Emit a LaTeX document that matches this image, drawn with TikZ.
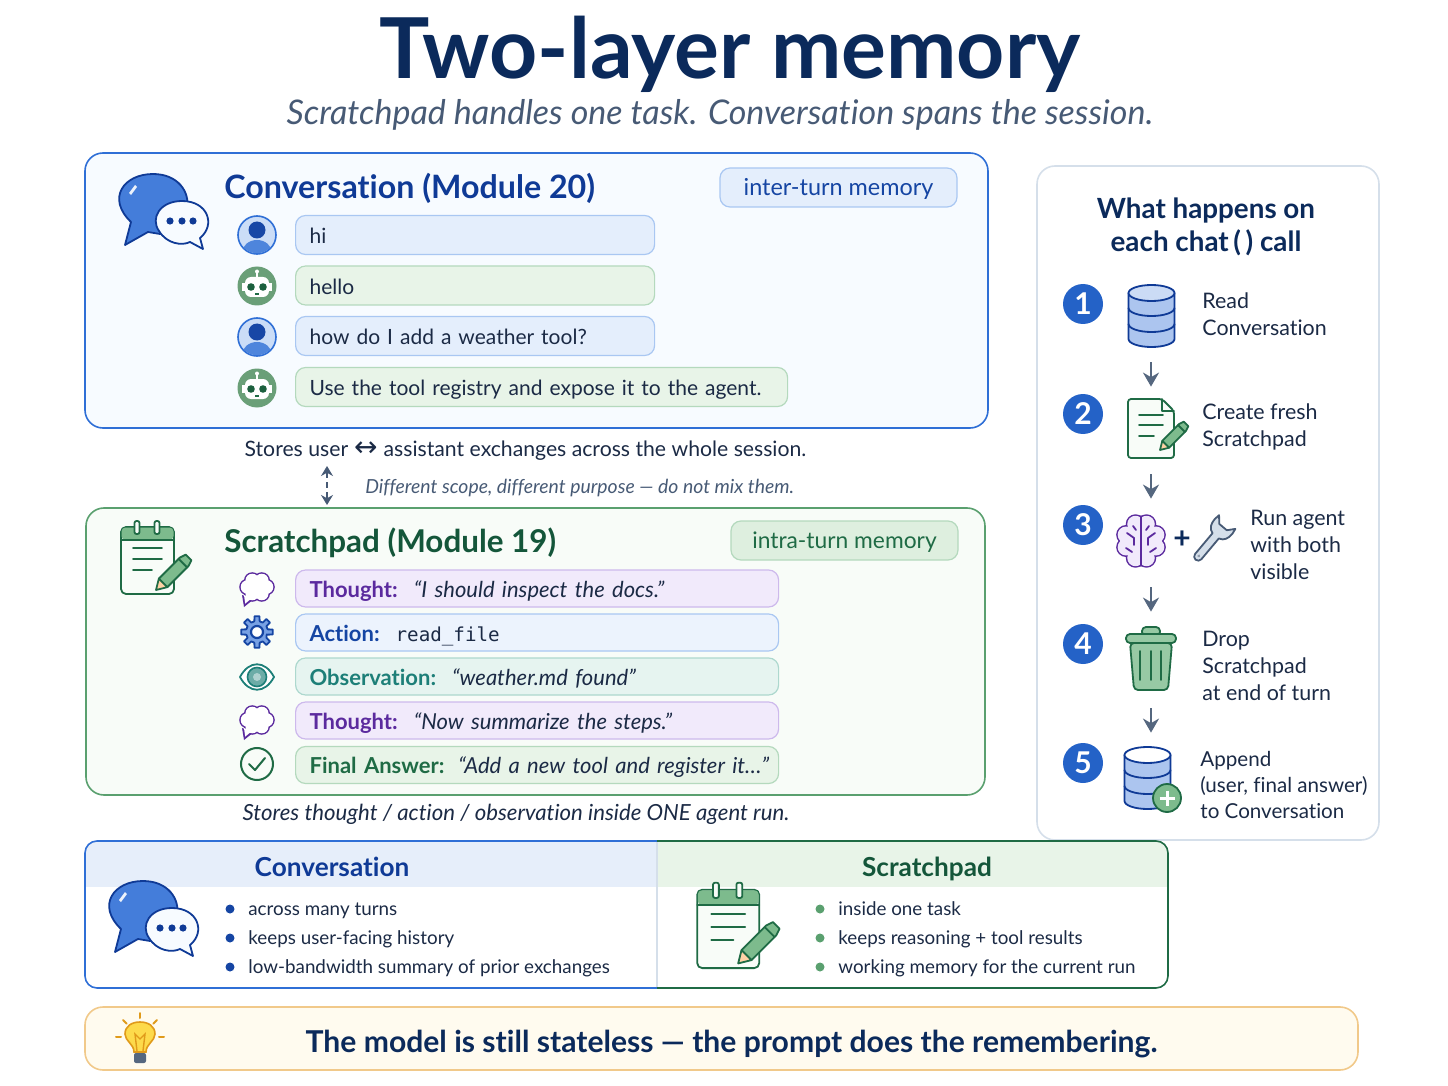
\documentclass[tikz,border=0pt]{standalone}
\usepackage{fontspec}
\setmainfont{Lato}[Ligatures=NoCommon]
\setmonofont{DejaVu Sans Mono}
\newfontfamily\symbolfont{DejaVu Sans}
\usetikzlibrary{arrows.meta}

\definecolor{navy}{HTML}{0B2A5B}
\definecolor{slate}{HTML}{475A75}
\definecolor{inktext}{HTML}{1B2A45}
\definecolor{flowgrey}{HTML}{55677F}
\definecolor{convblue}{HTML}{2F6FD6}
\definecolor{convdark}{HTML}{0F3A96}
\definecolor{convfill}{HTML}{F7FBFF}
\definecolor{bubbleblue}{HTML}{E4EEFC}
\definecolor{edgeblue}{HTML}{A9C7F2}
\definecolor{padgreen}{HTML}{5AA06F}
\definecolor{paddark}{HTML}{14563A}
\definecolor{padfill}{HTML}{F8FCF8}
\definecolor{bubblegreen}{HTML}{E8F4E8}
\definecolor{edgegreen}{HTML}{B4D9BD}
\definecolor{midgreen}{HTML}{7DBB8D}
\definecolor{darkgreen}{HTML}{1F6B45}
\definecolor{thoughtpurple}{HTML}{5B2A9E}
\definecolor{bubblepurple}{HTML}{F1EAFB}
\definecolor{edgepurple}{HTML}{CDB9EC}
\definecolor{obsteal}{HTML}{1D7F78}
\definecolor{bubbleteal}{HTML}{E6F4F0}
\definecolor{edgeteal}{HTML}{ADD8CE}
\definecolor{stepblue}{HTML}{2462C7}
\definecolor{sideedge}{HTML}{D5DFEA}
\definecolor{bannerfill}{HTML}{FFFBEF}
\definecolor{banneredge}{HTML}{F1C98A}
\definecolor{bulbedge}{HTML}{E09A1A}

\tikzset{
  panelbox/.style={line width=0.8pt, rounded corners=9pt},
  pillbox/.style={line width=0.6pt, rounded corners=5pt, minimum height=19.5pt, inner sep=0pt, text height=10.5pt, text depth=2.5pt, font=\fontsize{11.7}{14}\selectfont},
  bubblebox/.style={line width=0.6pt, rounded corners=5pt, anchor=west, inner xsep=7pt, inner ysep=0pt,
    text height=11pt, text depth=2.5pt, minimum height=19.5pt, align=left, text=inktext, font=\fontsize{10.5}{14}\selectfont},
  rowbox/.style={bubblebox, minimum height=18.5pt, text width=227.5pt, font=\fontsize{11}{14}\selectfont},
  heading/.style={anchor=west, text height=15pt, text depth=3.5pt, font=\fontsize{16.1}{20}\selectfont\bfseries},
  caption/.style={text=inktext, text height=10pt, text depth=2.5pt, font=\fontsize{10.6}{14}\selectfont},
  stepnum/.style={circle, fill=stepblue, text=white, minimum size=20pt, inner sep=0pt, font=\fontsize{15}{16}\selectfont\bfseries},
  steptext/.style={anchor=west, align=left, inner sep=0pt, text=inktext, font=\fontsize{10.7}{13.5}\selectfont},
  iconbox/.style={inner sep=0pt, minimum width=20pt},
  flowarrow/.style={draw=flowgrey, line width=1.3pt, -{Stealth[length=7pt,width=8pt]}},
  listtext/.style={anchor=west, inner sep=0pt, text=inktext, text height=9pt, text depth=2.5pt, font=\fontsize{9.4}{12}\selectfont},
  tablehead/.style={text height=12pt, text depth=3pt, font=\fontsize{13.1}{16}\selectfont\bfseries},
  iconline/.style={line width=0.9pt, line join=round, line cap=round}
}

\newcommand{\pencilicon}[3]{
\begin{scope}[shift={(#1,#2)},scale=#3,rotate=45]
\draw [iconline, draw=darkgreen, fill=midgreen] (10,6) -- (40,6) -- (46,4) -- (46,-4) -- (40,-6) -- (10,-6) -- cycle;
\draw [iconline, draw=darkgreen, fill=orange!35] (0,0) -- (10,6) -- (10,-6) -- cycle;
\draw [iconline, draw=darkgreen] (38,6) -- (38,-6);
\end{scope}
}
\newcommand{\notepadicon}[3]{
\begin{scope}[shift={(#1,#2)},scale=#3]
\draw [iconline, draw=darkgreen, fill=padfill, rounded corners=2.5pt] (-34,31) rectangle (19,-36);
\fill [midgreen, rounded corners=2pt] (-33.5,30.5) rectangle (18.5,18);
\draw [iconline, draw=darkgreen] (-34,18) -- (19,18);
\foreach \ringx in {-18,2} {
\draw [iconline, draw=darkgreen, fill=padfill, rounded corners=1pt] (\ringx-2.5,37) rectangle (\ringx+2.5,24);
}
\draw [iconline, draw=darkgreen] (-22,10) -- (7,10);
\draw [iconline, draw=darkgreen] (-22,-1) -- (7,-1);
\draw [iconline, draw=darkgreen] (-22,-12) -- (-3,-12);
\end{scope}
\pencilicon{#1+#3*1}{#2-#3*32}{#3}
}
\newcommand{\chaticon}[3]{
\begin{scope}[shift={(#1,#2)},scale=#3]
\draw [iconline, draw=convdark, fill=convblue!90!white] (-37,-35) -- (-31,-12) .. controls (-56,12) and (-38,36) .. (-9,36) .. controls (16,36) and (28,18) .. (25,2) -- (-2,-24) -- (-14,-22) -- cycle;
\draw [iconline, draw=convdark, fill=convfill] (41,-39) -- (38,-28) .. controls (54,-15) and (46,9) .. (20,9) .. controls (-2,9) and (-12,-8) .. (-3,-21) .. controls (5,-34) and (20,-36) .. (28,-32) -- cycle;
\fill [white, opacity=0.9] (-33,17) -- (-27,25) -- (-25,23) -- (-31,15) -- cycle;
\foreach \dotx in {8,20,31} {
\fill [convdark] (\dotx,-11) circle (3.6);
}
\end{scope}
}
\newcommand{\usericon}[2]{
\begin{scope}[shift={(#1,#2)}]
\draw [line width=0.8pt, draw=convblue, fill=edgeblue!60] (0,0) circle (19);
\begin{scope}
\clip (0,0) circle (18.2);
\fill [convblue!85!white] (0,-18) ellipse (15 and 13);
\end{scope}
\fill [convdark!75!convblue] (0,5) circle (8.5);
\end{scope}
}
\newcommand{\boticon}[2]{
\begin{scope}[shift={(#1,#2)}]
\fill [midgreen!85!black] (0,0) circle (19.5);
\draw [line width=0.8pt, draw=white] (0,9) -- (0,14);
\fill [white] (0,14.5) circle (2);
\fill [white] (-15,-5) rectangle (15,3);
\fill [white, rounded corners=3pt] (-12,-11) rectangle (12,9);
\fill [darkgreen!90!black] (-6,-1) circle (3.8);
\fill [darkgreen!90!black] (6,-1) circle (3.8);
\draw [line width=0.6pt, draw=darkgreen] (-2,-8) -- (2,-8);
\end{scope}
}
\newcommand{\thoughticon}[2]{
\begin{scope}[shift={(#1,#2)}]
\foreach \bump in {0,60,...,300} {
\fill [thoughtpurple] (\bump:9.5 and 7.5) circle (8.3);
}
\fill [thoughtpurple] (-15,-8) -- (-13,-20) -- (-3,-12) -- cycle;
\foreach \bump in {0,60,...,300} {
\fill [white] (\bump:9.5 and 7.5) circle (6.8);
}
\fill [white] (-13,-8) -- (-11.8,-16.6) -- (-5,-11) -- cycle;
\fill [white] (0,0) circle (10);
\end{scope}
}
\newcommand{\dbicon}[4]{
\begin{scope}[shift={(#1,#2)}]
\draw [iconline, draw=convdark, fill=convblue!40] (-23,23) -- (-23,-23) arc [start angle=180, end angle=360, x radius=23, y radius=8] -- (23,23);
\draw [iconline, draw=convdark, fill=#3] (0,23) ellipse (23 and 8);
\draw [iconline, draw=convdark] (-23,8) arc [start angle=180, end angle=360, x radius=23, y radius=8];
\draw [iconline, draw=convdark] (-23,-8) arc [start angle=180, end angle=360, x radius=23, y radius=8];
#4
\end{scope}
}

\begin{document}
\begin{tikzpicture}[x=0.5pt,y=0.5pt]
\useasboundingbox (0,0) rectangle (1448,-1086);

\node [text=navy, text height=30pt, text depth=8pt, font=\fontsize{42}{44}\selectfont\bfseries] (maintitle) at (730,-57) {Two-layer memory};
\node [text=slate, text height=13pt, text depth=3.5pt, font=\fontsize{17}{20}\selectfont\itshape] (subtitle) at (720,-115.5) {Scratchpad handles one task. Conversation spans the session.};

\draw [panelbox, draw=convblue, fill=convfill] (85,-153) rectangle (988,-428);
\chaticon{162}{-210}{1}
\node [heading, text=convdark, inner sep=0pt] (convtitle) at (224,-187) {Conversation (Module 20)};
\node [pillbox, draw=edgeblue, fill=bubbleblue, text=convdark!80!convblue, minimum width=118.5pt] (convpill) at (838.5,-187.5) {inter-turn memory};
\usericon{257}{-235}
\boticon{257}{-286}
\usericon{257}{-337}
\boticon{257}{-388}
\node [bubblebox, draw=edgeblue, fill=bubbleblue, text width=165.5pt] (bubblehi) at (295,-235) {hi};
\node [bubblebox, draw=edgegreen, fill=bubblegreen, text width=165.5pt] (bubblehello) at (295,-285.5) {hello};
\node [bubblebox, draw=edgeblue, fill=bubbleblue, text width=165.5pt] (bubbleask) at (295,-336) {how do I add a weather tool?};
\node [bubblebox, draw=edgegreen, fill=bubblegreen, text width=232pt] (bubbleuse) at (295,-387) {Use the tool registry and expose it to the agent.};
\node [caption] (convnote) at (525.5,-449) {Stores user\hspace{3pt}{\symbolfont\fontsize{14}{14}\selectfont ↔}\hspace{3pt}assistant exchanges across the whole session.};

\coordinate (scopetop) at (327,-466);
\coordinate (scopebot) at (327,-505);
\draw [draw=slate, line width=0.9pt, dashed, dash pattern=on 3pt off 2pt, {Stealth[length=5pt,width=6pt]}-{Stealth[length=5pt,width=6pt]}] (scopetop) -- (scopebot);
\node [anchor=west, inner sep=0pt, text=slate, text height=8.5pt, text depth=2.5pt, font=\fontsize{9.7}{12}\selectfont\itshape] (scopenote) at (365,-487) {Different scope, different purpose — do not mix them.};

\draw [panelbox, draw=padgreen, fill=padfill] (86,-508) rectangle (985,-795);
\notepadicon{155}{-558}{1}
\node [heading, text=paddark, inner sep=0pt, font=\fontsize{15.7}{20}\selectfont\bfseries] (padtitle) at (224,-541) {Scratchpad (Module 19)};
\node [pillbox, draw=edgegreen, fill=bubblegreen!80!edgegreen, text=darkgreen, minimum width=113.5pt, font=\fontsize{11.4}{14}\selectfont] (padpill) at (844.5,-540.5) {intra-turn memory};
\thoughticon{257}{-587}
\begin{scope}[shift={(257,-632)}]
\draw [iconline, draw=convdark!80!convblue, fill=convblue!65!white] (-14:10) \foreach \toothang in {0,45,...,315} { -- (\toothang-14:11) -- (\toothang-9:16) -- (\toothang+9:16) -- (\toothang+14:11) } -- cycle;
\draw [line width=1.1pt, draw=convdark!80!convblue, fill=white] (0,0) circle (6);
\end{scope}
\begin{scope}[shift={(257,-677)}]
\draw [iconline, draw=obsteal, fill=white] (-17,0) .. controls (-8,17) and (8,17) .. (17,0) .. controls (8,-17) and (-8,-17) .. (-17,0) -- cycle;
\draw [line width=0.8pt, draw=obsteal, fill=obsteal!65!white] (0,0) circle (9.5);
\fill [obsteal!35!white] (0,0) circle (4);
\end{scope}
\thoughticon{257}{-720}
\begin{scope}[shift={(257,-764)}]
\draw [line width=1pt, draw=darkgreen] (0,0) circle (16);
\draw [line width=1pt, draw=darkgreen, line join=round, line cap=round] (-8,0) -- (-2,-6) -- (8,6);
\end{scope}
\node [rowbox, draw=edgepurple, fill=bubblepurple] (rowthoughtone) at (295,-588.5) {{\bfseries\color{thoughtpurple}Thought:}\hspace{8pt}\textit{“I should inspect the docs.”}};
\node [rowbox, draw=edgeblue, fill=bubbleblue!70!white] (rowaction) at (295,-632.5) {{\bfseries\color{convdark!80!convblue}Action:}\hspace{8pt}{\fontsize{9.6}{14}\selectfont\ttfamily read\_file}};
\node [rowbox, draw=edgeteal, fill=bubbleteal] (rowobserve) at (295,-676.5) {{\bfseries\color{obsteal}Observation:}\hspace{8pt}\textit{“weather.md found”}};
\node [rowbox, draw=edgepurple, fill=bubblepurple] (rowthoughttwo) at (295,-720.5) {{\bfseries\color{thoughtpurple}Thought:}\hspace{8pt}\textit{“Now summarize the steps.”}};
\node [rowbox, draw=edgegreen, fill=bubblegreen] (rowfinal) at (295,-765) {\mbox{{\bfseries\color{darkgreen}Final Answer:}\hspace{7pt}\textit{“Add a new tool and register it…”}}};
\node [caption, font=\fontsize{11.1}{14}\selectfont\itshape] (padnote) at (516,-813) {Stores thought / action / observation inside ONE agent run.};

\draw [panelbox, draw=sideedge, fill=white] (1037,-166) rectangle (1379,-840);
\node [align=center, text=navy, font=\fontsize{13.9}{16.5}\selectfont\bfseries] (sidetitle) at (1206,-226.5) {What happens on\\each chat\,(\,)\ call};

\node [stepnum] (stepone) at (1083,-304) {1};
\node [stepnum] (steptwo) at (1083,-414) {2};
\node [stepnum] (stepthree) at (1083,-525) {3};
\node [stepnum] (stepfour) at (1083,-644) {4};
\node [stepnum] (stepfive) at (1083,-763) {5};

\node [iconbox, minimum height=46pt] (readicon) at (1151,-316) {};
\node [iconbox, minimum height=43.5pt] (createicon) at (1151,-430.5) {};
\node [iconbox, minimum height=44pt] (runicon) at (1151,-543) {};
\node [iconbox, minimum height=48pt] (dropicon) at (1151,-660) {};
\node [iconbox, minimum height=45pt] (appendicon) at (1151,-778) {};
\draw [flowarrow] (readicon) -- (createicon);
\draw [flowarrow] (createicon) -- (runicon);
\draw [flowarrow] (runicon) -- (dropicon);
\draw [flowarrow] (dropicon) -- (appendicon);

\dbicon{1151.5}{-316}{convblue!25!white}{}
\begin{scope}[shift={(1151,-428)}]
\draw [iconline, draw=darkgreen, fill=padfill, rounded corners=1.5pt] (-23,29) -- (11,29) -- (23,17) -- (23,-30) -- (-23,-30) -- cycle;
\draw [iconline, draw=darkgreen] (11,29) -- (11,17) -- (23,17);
\draw [iconline, draw=darkgreen] (-12,13) -- (12,13);
\draw [iconline, draw=darkgreen] (-12,3) -- (12,3);
\draw [iconline, draw=darkgreen] (-12,-8) -- (3,-8);
\end{scope}
\pencilicon{1160}{-450}{0.8}
\begin{scope}[shift={(1141,-541)}]
\foreach \lobe in {20,70,110,160,200,250,290,340} {
\fill [thoughtpurple] (\lobe:16 and 18) circle (9.8);
}
\foreach \lobe in {20,70,110,160,200,250,290,340} {
\fill [bubblepurple] (\lobe:16 and 18) circle (8.3);
}
\fill [bubblepurple] (0,0) circle (14);
\draw [iconline, draw=thoughtpurple] (0,25) -- (0,-25);
\draw [iconline, draw=thoughtpurple] (-14,8) -- (-7,3) -- (-7,-4);
\draw [iconline, draw=thoughtpurple] (14,8) -- (7,3) -- (7,-4);
\draw [iconline, draw=thoughtpurple] (-15,-7) -- (-9,-11);
\draw [iconline, draw=thoughtpurple] (15,-7) -- (9,-11);
\draw [iconline, draw=thoughtpurple] (-8,15) -- (-5,11);
\draw [iconline, draw=thoughtpurple] (8,15) -- (5,11);
\end{scope}
\node [text=navy, inner sep=0pt, font=\fontsize{15}{16}\selectfont\bfseries] (plussign) at (1182,-540) {+};
\begin{scope}[shift={(1213,-539)},rotate=-40,scale=0.82]
\draw [iconline, draw=slate, fill=sideedge] (-5,-28) arc [start angle=180, end angle=360, radius=5] -- (5,5) .. controls (12,7) and (14,13) .. (14,20) -- (13,27) -- (6,19) -- (-6,19) -- (-13,27) -- (-14,20) .. controls (-14,13) and (-12,7) .. (-5,5) -- cycle;
\fill [slate!60] (0,-27) circle (2);
\end{scope}
\begin{scope}[shift={(1151,-660)}]
\draw [iconline, draw=darkgreen, fill=midgreen!80!white, rounded corners=2pt] (-9,33) rectangle (9,24);
\draw [iconline, draw=darkgreen, fill=midgreen!80!white, rounded corners=2pt] (-21,17) -- (21,17) -- (17,-30) -- (-17,-30) -- cycle;
\draw [iconline, draw=darkgreen, fill=midgreen!80!white, rounded corners=2pt] (-25,26) rectangle (25,17);
\foreach \slotx in {-11,0,10} {
\draw [iconline, draw=darkgreen] (\slotx,9) -- (\slotx,-20);
}
\end{scope}
\dbicon{1147.5}{-778}{white}{
\draw [line width=0.9pt, draw=darkgreen, fill=midgreen] (19.5,-20) circle (14);
\draw [line width=1.5pt, draw=white] (12,-20) -- (27,-20);
\draw [line width=1.5pt, draw=white] (19.5,-12.5) -- (19.5,-27.5);
}

\node [steptext] (steptextone) at (1202,-314.5) {Read\\Conversation};
\node [steptext] (steptexttwo) at (1202,-426.5) {Create fresh\\Scratchpad};
\node [steptext] (steptextthree) at (1250,-545) {Run agent\\with both\\visible};
\node [steptext] (steptextfour) at (1202,-665.5) {Drop\\Scratchpad\\at end of turn};
\node [steptext, font=\fontsize{10.3}{13.2}\selectfont] (steptextfive) at (1200,-785) {Append\\(user, final answer)\\to Conversation};

\begin{scope}
\clip [rounded corners=6pt] (85,-841) rectangle (1168,-988);
\fill [convblue!12!white] (85,-841) rectangle (657,-887);
\fill [bubblegreen] (657,-841) rectangle (1168,-887);
\end{scope}
\draw [line width=0.8pt, draw=sideedge] (657,-841) -- (657,-988);
\draw [line width=0.8pt, draw=convblue, rounded corners=6pt] (657,-841) -- (85,-841) -- (85,-988) -- (657,-988);
\draw [line width=0.8pt, draw=darkgreen, rounded corners=6pt] (657,-841) -- (1168,-841) -- (1168,-988) -- (657,-988);
\node [tablehead, text=convdark] (tableconv) at (332,-867) {Conversation};
\node [tablehead, text=paddark] (tablepad) at (927,-867) {Scratchpad};
\chaticon{152}{-917}{1}
\notepadicon{737}{-926}{1.17}
\foreach \itemy in {909,938,967} {
\fill [convdark!80!convblue] (230,-\itemy) circle (4.5);
\fill [padgreen] (820,-\itemy) circle (4.5);
}
\node [listtext] (convitemone) at (248,-909) {across many turns};
\node [listtext] (convitemtwo) at (248,-938) {keeps user-facing history};
\node [listtext] (convitemthree) at (248,-967) {low-bandwidth summary of prior exchanges};
\node [listtext] (paditemone) at (838,-909) {inside one task};
\node [listtext] (paditemtwo) at (838,-938) {keeps reasoning + tool results};
\node [listtext] (paditemthree) at (838,-967) {working memory for the current run};

\draw [panelbox, draw=banneredge, fill=bannerfill] (85,-1007) rectangle (1358,-1070);
\begin{scope}[shift={(140,-1037)}]
\draw [line width=0.8pt, draw=bulbedge, fill=yellow!65!orange!70!white] (-6,-15) .. controls (-6,-7) and (-15,-4) .. (-15,3) .. controls (-15,11) and (-8,15) .. (0,15) .. controls (8,15) and (15,11) .. (15,3) .. controls (15,-4) and (6,-7) .. (6,-15) -- cycle;
\draw [line width=0.7pt, draw=bulbedge] (-3,-14) -- (-5,3) -- (0,-2) -- (5,3) -- (3,-14);
\fill [flowgrey, rounded corners=1pt] (-6,-16) rectangle (6,-26);
\foreach \rayang in {180,135,90,45,0} {
\draw [line width=1pt, draw=bulbedge, line cap=round] (\rayang:19) -- (\rayang:24);
}
\end{scope}
\node [text=navy, text height=14pt, text depth=3.5pt, font=\fontsize{15.05}{18}\selectfont\bfseries] (bannertext) at (731.5,-1042) {The model is still stateless — the prompt does the remembering.};
\end{tikzpicture}
\end{document}
